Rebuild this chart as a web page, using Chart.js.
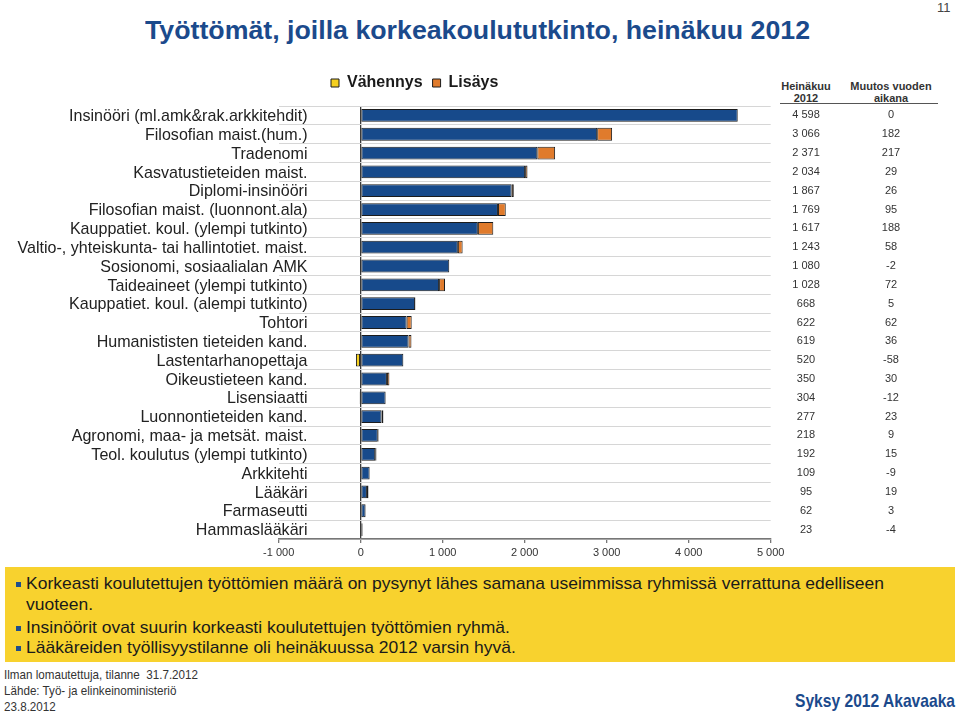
<!DOCTYPE html>
<html lang="fi">
<head>
<meta charset="utf-8">
<title>Työttömät, joilla korkeakoulututkinto, heinäkuu 2012</title>
<script src="https://cdn.jsdelivr.net/npm/chart.js@4.4.1/dist/chart.umd.min.js"></script>
<style>
  html, body { margin: 0; padding: 0; background: #fff; }
  body { width: 960px; height: 715px; position: relative; overflow: hidden;
         font-family: "Liberation Sans", Arial, sans-serif; color: #222; }
  .abs { position: absolute; white-space: nowrap; transform-origin: 0 50%; }
  #title { left: 145px; top: 16px; font-size: 25px; font-weight: bold; color: #1b4a8c; }
  #pageNo { left: 937px; top: 0px; font-size: 13px; color: #444; }
  #chartBox { position: absolute; left: 0; top: 65px; width: 960px; height: 496px; }
  .th { font-size: 11px; font-weight: bold; color: #333; text-align: center; line-height: 12px; }
  #thLine { position: absolute; left: 780px; top: 103px; width: 158px; height: 1px; background: #555; }
  #note { position: absolute; left: 5px; top: 567px; width: 950px; height: 95px; background: #f8d22e; }
  .bul { font-size: 17px; color: #1a1a1a; }
  .sq { position: absolute; width: 5px; height: 5px; background: #1f4e8c; }
  .foot { font-size: 13px; color: #333; left: 4px; }
  #brand { font-size: 19px; font-weight: bold; color: #1b4a8c; }
</style>
</head>
<body>
<div id="title" class="abs">Työttömät, joilla korkeakoulututkinto, heinäkuu 2012</div>
<div id="pageNo" class="abs">11</div>

<div class="abs th" style="left:780px; top:80px; width:52px;">Heinäkuu<br>2012</div>
<div class="abs th" style="left:845px; top:80px; width:92px;">Muutos vuoden<br>aikana</div>
<div id="thLine"></div>

<div id="chartBox"><canvas id="chart"></canvas></div>

<div id="note"></div>
<div class="sq" style="left:16px; top:582px;"></div>
<div id="b1" class="abs bul" style="left:26px; top:574px;">Korkeasti koulutettujen työttömien määrä on pysynyt lähes samana useimmissa ryhmissä verrattuna edelliseen</div>
<div class="abs bul" style="left:26px; top:595px;">vuoteen.</div>
<div class="sq" style="left:16px; top:626px;"></div>
<div class="abs bul" style="left:26px; top:618px;">Insinöörit ovat suurin korkeasti koulutettujen työttömien ryhmä.</div>
<div class="sq" style="left:16px; top:646px;"></div>
<div class="abs bul" style="left:26px; top:638px;">Lääkäreiden työllisyystilanne oli heinäkuussa 2012 varsin hyvä.</div>

<div id="f1" class="abs foot" style="top:667px;">Ilman lomautettuja, tilanne&nbsp; 31.7.2012</div>
<div class="abs foot" style="top:683px;">Lähde: Työ- ja elinkeinoministeriö</div>
<div class="abs foot" style="top:699px;">23.8.2012</div>
<div id="brand" class="abs" style="left:795px; top:690px;">Syksy 2012 Akavaaka</div>

<script>
const categories = [
  "Insinööri (ml.amk&rak.arkkitehdit)",
  "Filosofian maist.(hum.)",
  "Tradenomi",
  "Kasvatustieteiden maist.",
  "Diplomi-insinööri",
  "Filosofian maist. (luonnont.ala)",
  "Kauppatiet. koul. (ylempi tutkinto)",
  "Valtio-, yhteiskunta- tai hallintotiet. maist.",
  "Sosionomi, sosiaalialan AMK",
  "Taideaineet (ylempi tutkinto)",
  "Kauppatiet. koul. (alempi tutkinto)",
  "Tohtori",
  "Humanististen tieteiden kand.",
  "Lastentarhanopettaja",
  "Oikeustieteen kand.",
  "Lisensiaatti",
  "Luonnontieteiden kand.",
  "Agronomi, maa- ja metsät. maist.",
  "Teol. koulutus (ylempi tutkinto)",
  "Arkkitehti",
  "Lääkäri",
  "Farmaseutti",
  "Hammaslääkäri"
];
// Heinäkuu 2012
const values = [4598, 3066, 2371, 2034, 1867, 1769, 1617, 1243, 1080, 1028, 668, 622,
                619, 520, 350, 304, 277, 218, 192, 109, 95, 62, 23];
// Muutos vuoden aikana
const changes = [0, 182, 217, 29, 26, 95, 188, 58, -2, 72, 5, 62,
                 36, -58, 30, -12, 23, 9, 15, -9, 19, 3, -4];
const xTicks = [-1000, 0, 1000, 2000, 3000, 4000, 5000];

const BLUE = "#174a8b";
const ORANGE = "#e07b2c";
const YELLOW = "#f5d020";
const FONT = "'Liberation Sans', Arial, sans-serif";

// squeeze condensed-looking texts to their width in the slide
function fitWidth(id, w) {
  const el = document.getElementById(id);
  const k = w / el.getBoundingClientRect().width;
  el.style.transform = "scaleX(" + k + ")";
  return k;
}
fitWidth("title", 665);
const kb = fitWidth("b1", 858);
document.querySelectorAll(".bul").forEach((el) => { el.style.transform = "scaleX(" + kb + ")"; });
const kf = fitWidth("f1", 194);
document.querySelectorAll(".foot").forEach((el) => { el.style.transform = "scaleX(" + kf + ")"; });
fitWidth("brand", 160);

const fmt = (n) => {
  const s = String(Math.abs(n)).replace(/\B(?=(\d{3})+(?!\d))/g, " ");
  return (n < 0 ? "-" : "") + s;
};

const baseData = values.map((v, i) => v - Math.max(changes[i], 0));
const upData = changes.map((c) => (c > 0 ? c : null));
const downData = changes.map((c) => (c < 0 ? c : null));

// legend sits over the bars, not centred on the canvas
const legendPlace = {
  id: "legendPlace",
  beforeInit(chart) {
    const fit = chart.legend.fit;
    chart.legend.fit = function () {
      fit.bind(chart.legend)();
      this.height += 5;
    };
  },
  afterLayout(chart) {
    chart.legend.left = 321;
  },
};

// category names reach into the negative side, so they are drawn here
// (the axis would clip them at its own edge)
const LABEL_FONT = "17px " + FONT;
const labelScale = (() => {
  const c = document.createElement("canvas").getContext("2d");
  c.font = LABEL_FONT;
  return 290 / c.measureText(categories[7]).width;
})();

const sideText = {
  id: "sideText",
  afterDraw(chart) {
    const ctx = chart.ctx;
    const y = chart.scales.y;
    ctx.save();
    ctx.textBaseline = "middle";

    ctx.font = LABEL_FONT;
    ctx.fillStyle = "#222";
    ctx.textAlign = "right";
    categories.forEach((name, i) => {
      ctx.save();
      ctx.translate(307.5, y.getPixelForValue(i) + 1);
      ctx.scale(labelScale, 1);
      ctx.fillText(name, 0, 0);
      ctx.restore();
    });

    ctx.font = "11px " + FONT;
    ctx.fillStyle = "#333";
    ctx.textAlign = "center";
    values.forEach((v, i) => {
      const py = y.getPixelForValue(i);
      ctx.fillText(fmt(v), 806, py);
      ctx.fillText(fmt(changes[i]), 891, py);
    });
    ctx.restore();
  },
};

new Chart(document.getElementById("chart"), {
  type: "bar",
  data: {
    labels: categories,
    datasets: [
      {
        label: "2012",
        data: baseData,
        backgroundColor: BLUE,
        borderColor: "#1c1c1c",
        borderWidth: 1,
        borderSkipped: false,
      },
      {
        label: "Lisäys",
        data: upData,
        backgroundColor: ORANGE,
        borderColor: "#1c1c1c",
        borderWidth: 1,
        borderSkipped: false,
      },
      {
        label: "Vähennys",
        data: downData,
        backgroundColor: YELLOW,
        borderColor: "#1c1c1c",
        borderWidth: 1,
        borderSkipped: false,
      },
    ],
  },
  options: {
    indexAxis: "y",
    responsive: true,
    maintainAspectRatio: false,
    animation: false,
    barPercentage: 0.68,
    categoryPercentage: 1.0,
    layout: { padding: { left: 0, right: 189.3, top: 0, bottom: 0 } },
    plugins: {
      tooltip: { enabled: false },
      legend: {
        position: "top",
        align: "start",
        reverse: true,
        labels: {
          filter: (item) => item.text !== "2012",
          boxWidth: 8,
          boxHeight: 8,
          padding: 10,
          color: "#1a1a1a",
          font: { family: FONT, size: 16, weight: "bold" },
        },
      },
    },
    scales: {
      x: {
        stacked: true,
        min: -1000,
        max: 5000,
        afterBuildTicks: (scale) => {
          scale.ticks = xTicks.map((v) => ({ value: v }));
        },
        afterFit: (scale) => {
          scale.height = 22;
        },
        grid: {
          drawTicks: true,
          tickLength: 4,
          tickColor: "#777",
          lineWidth: 1.3,
          color: (c) => (c.tick && c.tick.value === 0 ? "#3a3a3a" : "rgba(0,0,0,0)"),
        },
        border: { display: true, color: "#777", width: 1.5 },
        ticks: {
          padding: 3,
          maxRotation: 0,
          color: "#333",
          font: { family: FONT, size: 11 },
          callback: (v) => fmt(v),
        },
      },
      y: {
        stacked: true,
        afterFit: (scale) => {
          scale.width = 278.7;
        },
        grid: {
          offset: true,
          drawTicks: false,
          color: "#d6d6d6",
          lineWidth: 1,
        },
        border: { display: false },
        ticks: { display: false, autoSkip: false },
      },
    },
  },
  plugins: [legendPlace, sideText],
});
</script>
</body>
</html>
